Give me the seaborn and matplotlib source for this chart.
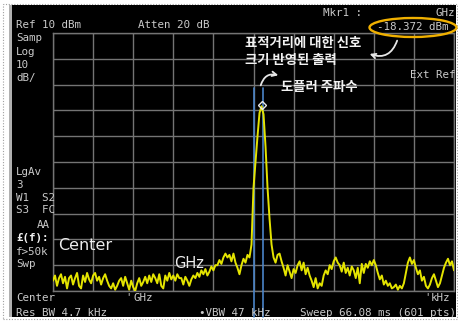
import numpy as np
import pandas as pd
import matplotlib
matplotlib.use("Agg")
import matplotlib.pyplot as plt
import seaborn as sns
from matplotlib.patches import Ellipse, Rectangle, FancyArrowPatch

# Swept trace: 201 samples spread evenly over the 10 horizontal divisions (dBm)
trace_dbm = [
    -86, -84, -88, -85, -83.5, -87, -84.5, -89, -85, -84,
    -87.5, -85, -83, -88, -89, -84, -86.5, -83, -85.5, -87,
    -84, -83, -86, -84.5, -87.5, -85, -83.5, -86, -88, -89,
    -87, -89.5, -88, -86, -85, -88, -84.5, -87, -89.5, -86,
    -88.5, -90, -87, -85, -88, -86.5, -84.5, -87, -84, -86.5,
    -83.5, -85, -87, -83.5, -88, -89, -84, -86, -83, -85.5,
    -84, -86, -83.5, -85, -85, -87.5, -84.5, -86, -88, -85.5,
    -84, -85, -83, -84.5, -82, -83.5, -81.5, -84, -82.5, -80.5,
    -82, -80, -80, -78, -79.5, -77, -75.5, -77, -76, -78.5,
    -75.5, -79, -81, -83.5, -80, -77.5, -79, -76, -77, -72,
    -50, -40, -30, -21, -18.372, -21.5, -34, -50, -62, -72,
    -77, -79, -76, -75.5, -78.5, -81, -84, -80, -82.5, -85,
    -81.5, -83, -80, -78.5, -82, -79, -83.5, -81, -84, -86,
    -88.5, -85, -89, -87, -88, -84, -82, -83.5, -80, -81.5,
    -78.5, -77, -79, -80, -82.5, -79, -83, -81, -84, -80.5,
    -82, -85, -81, -87, -79.5, -83, -79.5, -81, -78.5, -80,
    -78, -80, -83, -85.5, -84, -87.5, -86, -88, -87, -89,
    -88.5, -87.5, -89.5, -88, -89, -87, -83, -79, -77, -79.5,
    -78, -81, -83.5, -82, -86, -84.5, -88, -89, -87.5, -85,
    -83.5, -86, -88.5, -87, -84, -81, -79, -77.5, -80, -78.5,
    -82,
]
ref_level_dbm = 10
db_per_div = 10
n_div = 10
marker_text = "-18.372 dBm"
band_edges_div = [5.0, 5.23]

W, H = 458, 322
TRACE = "#e4e400"
GRID = "#747474"
TXT = "#cacaca"
BLUE = "#4a84c8"
MONO = ["DejaVu Sans Mono"]
KR = ["Noto Sans CJK KR", "DejaVu Sans"]

sns.set_theme(style="dark")
plt.rcParams["font.family"] = ["DejaVu Sans"]


def fp(x, y):
    """pixel position (from top-left) -> figure fraction"""
    return x / W, 1 - y / H


fig = plt.figure(figsize=(W / 100, H / 100), dpi=100)
fig.patch.set_facecolor("white")

# instrument screen
fig.add_artist(Rectangle(fp(12, 317), (456 - 12) / W, (317 - 5) / H,
                         transform=fig.transFigure, facecolor="black",
                         edgecolor="none", zorder=-2))
fig.add_artist(Rectangle(fp(9, 317), 3 / W, (317 - 5) / H,
                         transform=fig.transFigure, facecolor="#b0b0b0",
                         edgecolor="none", zorder=-2))
fig.add_artist(Rectangle(fp(3, 319), (457 - 3) / W, (319 - 4) / H,
                         transform=fig.transFigure, facecolor="none",
                         edgecolor="#a0a0a0", lw=0.8, ls=(0, (1, 1.5)),
                         zorder=-3))

# graticule area
ax = fig.add_axes([53 / W, 1 - 291 / H, 401 / W, 258 / H])
ax.set_facecolor("none")
bottom = ref_level_dbm - db_per_div * n_div
ax.set_xlim(0, n_div)
ax.set_ylim(bottom, ref_level_dbm)
ax.set_xticks(np.arange(0, n_div + 1))
ax.set_yticks(np.arange(bottom, ref_level_dbm + 1, db_per_div))
ax.grid(True, color=GRID, lw=1.0)
ax.tick_params(length=0, labelbottom=False, labelleft=False)
for s in ax.spines.values():
    s.set_color(GRID)
    s.set_linewidth(1.0)

freq_div = np.linspace(0, n_div, len(trace_dbm))
df = pd.DataFrame({"freq": freq_div, "level": trace_dbm})
sns.lineplot(data=df, x="freq", y="level", ax=ax, color=TRACE, lw=1.4,
             zorder=4)
ax.set_xlabel("")
ax.set_ylabel("")

# band marker lines
for e in band_edges_div:
    ax.axvline(e, ymin=-0.10, ymax=0.787, color=BLUE, lw=1.2, clip_on=False,
               zorder=3)

# peak marker
pk = int(np.argmax(trace_dbm))
ax.plot(freq_div[pk], trace_dbm[pk] + 0.5, marker="D", ms=4.2, mfc="none",
        mec="#e8e8e8", mew=1.0, zorder=6)

# readouts
def t(x, y, s, size=7.8, color=TXT, family=MONO, **kw):
    fig.text(*fp(x, y), s, fontsize=size, color=color, family=family,
             va="center", ha="left", **kw)

t(16, 25, "Ref 10 dBm")
t(138, 25, "Atten 20 dB")
t(323, 13, "Mkr1 :")
t(436, 13, "GHz")
t(377, 27, marker_text)
for y, s in [(38, "Samp"), (52, "Log"), (65, "10"), (78, "dB/"),
             (172, "LgAv"), (185, "3"), (198, "W1  S2"), (210, "S3  FC"),
             (252, "f>50k"), (264, "Swp")]:
    t(16, y, s)
t(37, 225, "AA")
t(16, 238, "£(f):", color="#f0f0f0", weight="bold")
t(410, 75, "Ext Ref")
t(16, 298, "Center")
t(125, 297, "'")
t(133, 298, "GHz")
t(424, 297, "'")
t(431, 298, "kHz")
t(16, 313, "Res BW 4.7 kHz")
t(199, 313, "•VBW 47 kHz")
t(300, 313, "Sweep 66.08 ms (601 pts)")

# large overlay labels
t(58, 245, "Center", size=11.5, color="#ececec", family=["DejaVu Sans"])
t(174, 263, "GHz", size=10.5, color="#ececec", family=["DejaVu Sans"])

# annotations
t(245, 43, "표적거리에 대한 신호", size=9.6, color="#f2f2f2", family=KR,
  weight="bold")
t(245, 60, "크기 반영된 출력", size=9.6, color="#f2f2f2", family=KR,
  weight="bold")
t(281, 87, "도플러 주파수", size=9.6, color="#f2f2f2", family=KR,
  weight="bold")

fig.add_artist(Ellipse(fp(413, 27.5), 87 / W, 19 / H,
                       transform=fig.transFigure, fill=False,
                       edgecolor="#f0b000", lw=1.7, zorder=5))
fig.add_artist(FancyArrowPatch(fp(398, 38), fp(367, 53),
                               transform=fig.transFigure,
                               connectionstyle="arc3,rad=-0.55",
                               arrowstyle="->", mutation_scale=8,
                               color="#e6e6e6", lw=1.3, zorder=5))
fig.add_artist(FancyArrowPatch(fp(260, 88), fp(281, 76),
                               transform=fig.transFigure,
                               connectionstyle="arc3,rad=-0.55",
                               arrowstyle="->", mutation_scale=8,
                               color="#e6e6e6", lw=1.3, zorder=5))

fig.savefig("out.png", dpi=100, facecolor="white")
